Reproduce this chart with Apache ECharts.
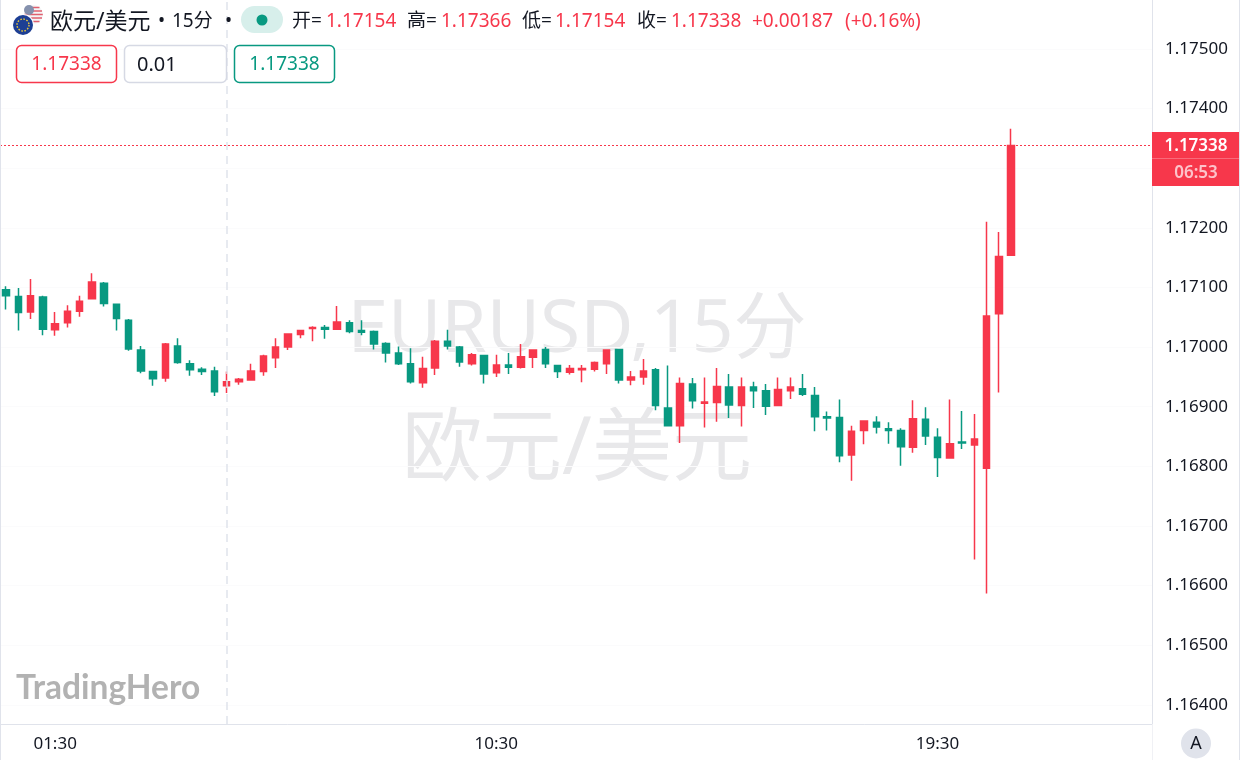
<!DOCTYPE html>
<html>
<head>
<meta charset="utf-8">
<title>EURUSD 15分</title>
<style>
html, body { margin: 0; padding: 0; background: #fff; }
#chart { width: 1240px; height: 760px; }
</style>
<script src="https://cdn.jsdelivr.net/npm/echarts@6/dist/echarts.min.js"></script>
</head>
<body>
<div id="chart"></div>
<script>
// 15分K线,时间轴留出右侧空白
var times = [
    '00:30','00:45','01:00','01:15','01:30','01:45','02:00','02:15','02:30','02:45','03:00','03:15',
    '03:30','03:45','04:00','04:15','04:30','04:45','05:00','05:15','05:30','05:45','06:00','06:15',
    '06:30','06:45','07:00','07:15','07:30','07:45','08:00','08:15','08:30','08:45','09:00','09:15',
    '09:30','09:45','10:00','10:15','10:30','10:45','11:00','11:15','11:30','11:45','12:00','12:15',
    '12:30','12:45','13:00','13:15','13:30','13:45','14:00','14:15','14:30','14:45','15:00','15:15',
    '15:30','15:45','16:00','16:15','16:30','16:45','17:00','17:15','17:30','17:45','18:00','18:15',
    '18:30','18:45','19:00','19:15','19:30','19:45','20:00','20:15','20:30','20:45','21:00','21:15',
    '21:30','21:45','22:00','22:15','22:30','22:45','23:00','23:15','23:30','23:45'
];
var timeLabels = ['01:30', '10:30', '19:30'];
var priceLabels = [1.175, 1.174, 1.172, 1.171, 1.170, 1.169, 1.168, 1.167, 1.166, 1.165, 1.164];
var gridPrices = [1.175, 1.174, 1.173, 1.172, 1.171, 1.170, 1.169, 1.168, 1.167, 1.166, 1.165, 1.164];

var opens = [
    1.17096,1.17085,1.17059,1.17084,1.17029,1.17041,1.17060,1.17081,1.17107,1.17072,
    1.17045,1.16995,1.16959,1.16948,1.17002,1.16972,1.16963,1.16960,1.16935,1.16942,
    1.16945,1.16959,1.16982,1.17000,1.17021,1.17031,1.17033,1.17030,1.17041,1.17028,
    1.17026,1.17006,1.16990,1.16972,1.16940,1.16965,1.17010,1.17000,1.16972,1.16986,
    1.16957,1.16970,1.16966,1.16983,1.16996,1.16969,1.16958,1.16962,1.16963,1.16972,
    1.16996,1.16945,1.16950,1.16962,1.16898,1.16868,1.16938,1.16906,1.16907,1.16933,
    1.16902,1.16933,1.16927,1.16902,1.16927,1.16930,1.16919,1.16883,1.16882,1.16819,
    1.16860,1.16874,1.16863,1.16860,1.16832,1.16879,1.16849,1.16814,1.16841,1.16836,
    1.16797,1.17056,1.17154
];
var closes = [
    1.17086,1.17058,1.17086,1.17030,1.17039,1.17060,1.17077,1.17109,1.17073,1.17048,
    1.16997,1.16960,1.16947,1.17005,1.16974,1.16962,1.16959,1.16925,1.16942,1.16946,
    1.16960,1.16985,1.17000,1.17022,1.17028,1.17033,1.17030,1.17042,1.17026,1.17025,
    1.17005,1.16990,1.16972,1.16942,1.16964,1.17010,1.17002,1.16975,1.16987,1.16955,
    1.16970,1.16966,1.16984,1.16995,1.16972,1.16959,1.16964,1.16964,1.16974,1.16995,
    1.16945,1.16950,1.16960,1.16902,1.16868,1.16939,1.16910,1.16908,1.16934,1.16903,
    1.16933,1.16927,1.16901,1.16929,1.16933,1.16921,1.16883,1.16881,1.16818,1.16859,
    1.16876,1.16866,1.16860,1.16833,1.16880,1.16851,1.16815,1.16838,1.16839,1.16846,
    1.17052,1.17152,1.17338
];
var lows = [
    1.17063,1.17028,1.17047,1.17020,1.17019,1.17033,1.17051,1.17080,1.17068,1.17028,
    1.16994,1.16956,1.16935,1.16942,1.16972,1.16952,1.16953,1.16918,1.16923,1.16937,
    1.16944,1.16952,1.16965,1.16995,1.17015,1.17010,1.17014,1.17030,1.17023,1.17020,
    1.16996,1.16974,1.16970,1.16939,1.16932,1.16953,1.16996,1.16967,1.16969,1.16939,
    1.16950,1.16955,1.16964,1.16965,1.16965,1.16948,1.16954,1.16941,1.16959,1.16955,
    1.16939,1.16936,1.16937,1.16894,1.16867,1.16839,1.16897,1.16865,1.16875,1.16881,
    1.16867,1.16898,1.16886,1.16902,1.16913,1.16918,1.16859,1.16860,1.16807,1.16776,
    1.16837,1.16855,1.16838,1.16801,1.16823,1.16836,1.16782,1.16814,1.16829,1.16644,
    1.16587,1.16924,1.17154
];
var highs = [
    1.17102,1.17099,1.17114,1.17086,1.17059,1.17070,1.17086,1.17124,1.17109,1.17073,
    1.17047,1.17002,1.16960,1.17007,1.17015,1.16978,1.16966,1.16967,1.16959,1.16948,
    1.16972,1.16987,1.17015,1.17022,1.17028,1.17035,1.17037,1.17069,1.17045,1.17045,
    1.17028,1.17008,1.17001,1.16998,1.16984,1.17012,1.17029,1.17002,1.16990,1.16987,
    1.16987,1.16990,1.17005,1.16996,1.17000,1.16969,1.16970,1.16970,1.16976,1.16995,
    1.16996,1.16960,1.16980,1.16965,1.16969,1.16949,1.16948,1.16949,1.16965,1.16955,
    1.16949,1.16942,1.16938,1.16949,1.16949,1.16955,1.16933,1.16892,1.16912,1.16868,
    1.16876,1.16884,1.16874,1.16864,1.16911,1.16899,1.16864,1.16912,1.16893,1.16888,
    1.17210,1.17193,1.17366
];
var lastPrice = 1.17338;
var crossTime = '05:00';

var RED = '#f7374b';
var GREEN = '#089981';
var LINE = '#e0e3eb';
var FONT = '"Noto Sans", "Noto Sans CJK SC", sans-serif';

var candles = [];
for (var i = 0; i < opens.length; i++) {
    candles.push([opens[i], closes[i], lows[i], highs[i]]);
}

// 头部和右侧价格标签
function txt(x, y, text, fill, size, extra) {
    var style = { x: x, y: y, text: text, fill: fill, font: (size || 19) + 'px ' + FONT, textVerticalAlign: 'middle' };
    for (var k in (extra || {})) style[k] = extra[k];
    return { type: 'text', z: 50, silent: true, style: style };
}
function box(x, y, w, h, stroke) {
    return { type: 'rect', z: 50, silent: true, shape: { x: x, y: y, width: w, height: h, r: 5 },
        style: { fill: '#fff', stroke: stroke, lineWidth: 1.5 } };
}

var graphics = [
    // 水印
    { type: 'text', z: 0, silent: true, style: { x: 577, y: 331, text: 'EURUSD,15分', fill: '#e8e8ea', textAlign: 'center', textVerticalAlign: 'middle', font: '73px ' + FONT } },
    { type: 'text', z: 0, silent: true, style: { x: 577, y: 451, text: '欧元/美元', fill: '#e8e8ea', textAlign: 'center', textVerticalAlign: 'middle', font: '80px ' + FONT } },
    { type: 'text', z: 0, silent: true, style: { x: 16, y: 688, text: 'TradingHero', fill: '#b2b2b2', textVerticalAlign: 'middle', font: 'bold 33.5px Lato, ' + FONT } },

    // 边框
    { type: 'line', z: 40, silent: true, shape: { x1: 0.5, y1: 0, x2: 0.5, y2: 760 }, style: { stroke: LINE } },
    { type: 'line', z: 40, silent: true, shape: { x1: 1152.5, y1: 724, x2: 1152.5, y2: 760 }, style: { stroke: '#f0f1f5' } },
    { type: 'line', z: 40, silent: true, shape: { x1: 1239.5, y1: 0, x2: 1239.5, y2: 760 }, style: { stroke: LINE } },

    // 旗帜
    { type: 'circle', z: 50, silent: true, shape: { cx: 33.5, cy: 14.5, r: 9.5 }, style: { fill: '#f4f4f6' } },
    { type: 'line', z: 50, silent: true, shape: { x1: 28, y1: 7.5, x2: 39.5, y2: 7.5 }, style: { stroke: '#e0606f', lineWidth: 1.5 } },
    { type: 'line', z: 50, silent: true, shape: { x1: 25, y1: 11, x2: 42, y2: 11 }, style: { stroke: '#e0606f', lineWidth: 1.5 } },
    { type: 'line', z: 50, silent: true, shape: { x1: 24.2, y1: 14.5, x2: 42.8, y2: 14.5 }, style: { stroke: '#e0606f', lineWidth: 1.5 } },
    { type: 'line', z: 50, silent: true, shape: { x1: 25, y1: 18, x2: 42, y2: 18 }, style: { stroke: '#e0606f', lineWidth: 1.5 } },
    { type: 'line', z: 50, silent: true, shape: { x1: 28, y1: 21.5, x2: 39.5, y2: 21.5 }, style: { stroke: '#e0606f', lineWidth: 1.5 } },
    { type: 'circle', z: 50, silent: true, shape: { cx: 29, cy: 10, r: 5 }, style: { fill: '#8591ad' } },
    { type: 'circle', z: 51, silent: true, shape: { cx: 23, cy: 25, r: 11 }, style: { fill: '#fff' } },
    { type: 'circle', z: 51, silent: true, shape: { cx: 23, cy: 25, r: 10 }, style: { fill: '#1d3f94' } },
    { type: 'circle', z: 51, silent: true, shape: { cx: 23, cy: 25, r: 6 }, style: { fill: 'none', stroke: '#e8c63a', lineWidth: 1.4, lineDash: [1.6, 1.5] } },

    // 品种名称与状态
    txt(50, 22, '欧元/美元', '#131722', 23),
    txt(158, 22, '•', '#131722', 19),
    txt(172, 22, '15分', '#131722', 19),
    txt(225, 22, '•', '#131722', 19),
    { type: 'rect', z: 50, silent: true, shape: { x: 241, y: 6, width: 42, height: 27, r: 13.5 }, style: { fill: '#d7efeb' } },
    { type: 'circle', z: 51, silent: true, shape: { cx: 262, cy: 20, r: 5.5 }, style: { fill: GREEN } },

    // OHLC
    txt(292, 22, '开=', '#131722'),
    txt(326, 22, '1.17154', RED),
    txt(407, 22, '高=', '#131722'),
    txt(441, 22, '1.17366', RED),
    txt(522, 22, '低=', '#131722'),
    txt(555, 22, '1.17154', RED),
    txt(637, 22, '收=', '#131722'),
    txt(671, 22, '1.17338', RED),
    txt(752, 22, '+0.00187', RED),
    txt(845, 22, '(+0.16%)', RED),

    // 下单按钮
    box(16.5, 45.5, 100, 37, RED),
    txt(66.5, 65, '1.17338', RED, 19, { textAlign: 'center' }),
    box(124.5, 45.5, 102, 37, '#d6d9e4'),
    txt(137, 65, '0.01', '#131722', 20),
    box(234.5, 45.5, 100, 37, GREEN),
    txt(284.5, 65, '1.17338', GREEN, 19, { textAlign: 'center' }),

    // 最新价标签
    { type: 'rect', z: 60, silent: true, shape: { x: 1152, y: 132, width: 87, height: 54 }, style: { fill: RED } },
    { type: 'line', z: 61, silent: true, shape: { x1: 1152, y1: 158.5, x2: 1239, y2: 158.5 }, style: { stroke: '#f96a7a' } },
    { type: 'text', z: 61, silent: true, style: { x: 1196, y: 146, text: '1.17338', fill: '#fff', textAlign: 'center', textVerticalAlign: 'middle', font: '600 17px ' + FONT } },
    { type: 'text', z: 61, silent: true, style: { x: 1196, y: 173, text: '06:53', fill: '#fdc3ca', textAlign: 'center', textVerticalAlign: 'middle', font: '600 17px ' + FONT } },

    // 自动缩放按钮
    { type: 'circle', z: 50, silent: true, shape: { cx: 1196, cy: 743.5, r: 15 }, style: { fill: '#e0e3eb' } },
    { type: 'text', z: 51, silent: true, style: { x: 1196, y: 744, text: 'A', fill: '#131722', textAlign: 'center', textVerticalAlign: 'middle', font: '18px ' + FONT } }
];

var chart = echarts.init(document.getElementById('chart'));

var option = {
    animation: false,
    backgroundColor: '#ffffff',
    textStyle: { fontFamily: FONT },
    grid: { left: -0.8, top: 0, width: 1152.8, height: 724 },
    graphic: graphics,
    xAxis: {
        type: 'category',
        data: times,
        boundaryGap: true,
        axisLine: { show: true, lineStyle: { color: LINE, width: 1 } },
        axisTick: { show: false },
        splitLine: { show: false },
        axisLabel: {
            color: '#131722',
            fontSize: 17,
            fontFamily: FONT,
            margin: 12,
            hideOverlap: false,
            interval: function (idx, val) { return timeLabels.indexOf(val) >= 0; }
        }
    },
    yAxis: {
        type: 'value',
        position: 'right',
        min: 1.16368,
        max: 1.17582,
        scale: true,
        axisLine: { show: true, lineStyle: { color: LINE, width: 1 } },
        axisTick: { show: false, customValues: gridPrices },
        splitLine: { show: true, lineStyle: { color: '#fbfbfc', width: 1 } },
        axisLabel: {
            color: '#131722',
            fontSize: 17,
            fontFamily: FONT,
            margin: 13,
            padding: [3, 0, 0, 0],
            customValues: priceLabels,
            formatter: function (v) { return v.toFixed(5); }
        }
    },
    series: [{
        type: 'candlestick',
        data: candles,
        barWidth: 7,
        itemStyle: {
            color: RED,
            color0: GREEN,
            borderColor: RED,
            borderColor0: GREEN,
            borderWidth: 1.5
        },
        markLine: {
            silent: true,
            symbol: 'none',
            animation: false,
            precision: 5,
            label: { show: false },
            data: [
                { xAxis: crossTime, lineStyle: { color: LINE, type: [8, 6], width: 1.5 } },
                { yAxis: lastPrice, lineStyle: { color: RED, type: [2, 2], width: 1 } }
            ]
        }
    }]
};

chart.setOption(option);
</script>
</body>
</html>
